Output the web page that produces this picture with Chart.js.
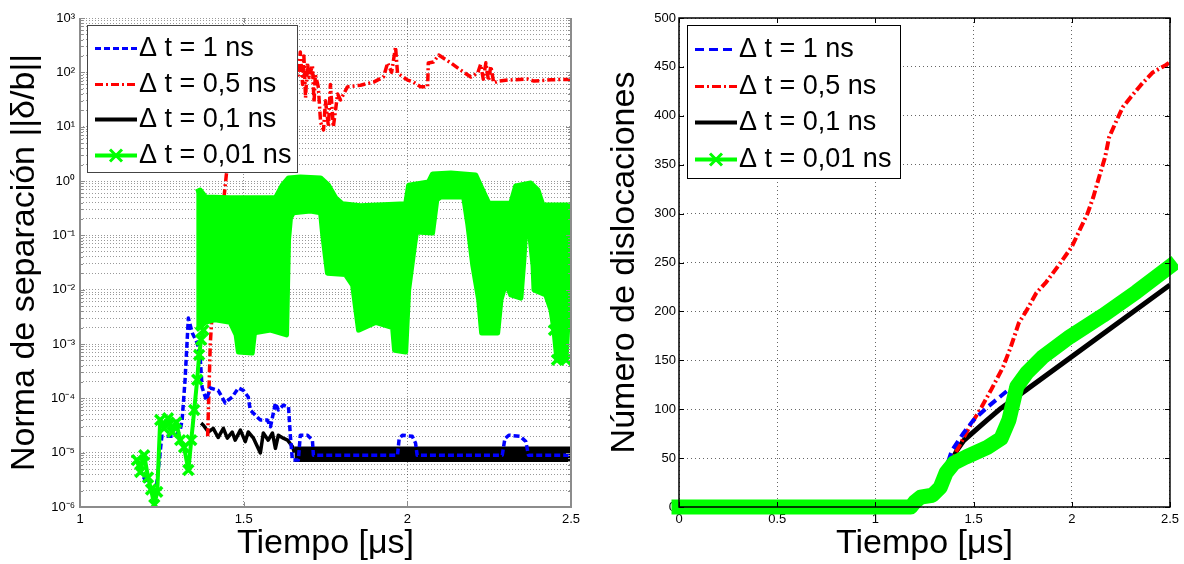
<!DOCTYPE html>
<html>
<head>
<meta charset="utf-8">
<script src="https://cdn.jsdelivr.net/npm/chart.js@4.4.1/dist/chart.umd.min.js"></script>
<style>
  html, body { margin: 0; padding: 0; background: #fff; }
  #wrap { position: relative; width: 1184px; height: 564px; }
  #wrap canvas { position: absolute; top: 0; }
  #separacion { left: 0; }
  #dislocaciones { left: 600px; }
</style>
</head>
<body>
<div id="wrap">
  <canvas id="separacion" width="600" height="564"></canvas>
  <canvas id="dislocaciones" width="584" height="564"></canvas>
</div>
<script>
// ---------- Norma de separacion ||delta/b|| (panel izquierdo, escala log) ----------
// dt = 1 ns
var tSep1 = [1.18, 1.23, 1.25, 1.29, 1.306, 1.312, 1.321, 1.331, 1.343, 1.358, 1.367, 1.373, 1.386, 1.398, 1.422,
  1.444, 1.453, 1.465, 1.484, 1.499, 1.514, 1.520, 1.542, 1.551, 1.572, 1.582, 1.597, 1.606, 1.621, 1.637,
  1.643, 1.649, 1.667, 1.673, 1.695, 1.710, 1.713, 1.80, 1.90, 1.97, 1.975, 1.985, 2.015, 2.025, 2.03,
  2.15, 2.29, 2.298, 2.31, 2.345, 2.362, 2.37, 2.45, 2.5];
var nSep1 = [5e-6, 1.5e-6, 2e-5, 2e-5, 2.6e-5, 4e-5, 2.2e-4, 3e-3, 1.6e-3, 1.04e-3, 5.8e-4, 1.6e-4, 9.3e-5, 1.55e-4, 1.4e-4,
  8.2e-5, 9.3e-5, 1.06e-4, 1.55e-4, 1.4e-4, 1.06e-4, 6.1e-5, 4.5e-5, 4e-5, 4e-5, 3e-5, 8.2e-5, 6.1e-5, 7.5e-5, 6.9e-5,
  1.9e-5, 7.3e-6, 7.3e-6, 2.1e-5, 2.1e-5, 1.7e-5, 9e-6, 9e-6, 9e-6, 9e-6, 1.8e-5, 2.1e-5, 2e-5, 1.5e-5, 9e-6,
  9e-6, 9e-6, 1.8e-5, 2.1e-5, 2e-5, 1.6e-5, 9e-6, 9e-6, 9e-6];

// dt = 0,5 ns
var tSep05 = [1.39, 1.398, 1.404, 1.41, 1.44, 1.447, 1.49, 1.58, 1.667, 1.673, 1.68, 1.684, 1.689, 1.695, 1.70,
  1.71, 1.715, 1.719, 1.728, 1.735, 1.744, 1.75, 1.759, 1.765, 1.774, 1.787, 1.796, 1.817, 1.857, 1.897,
  1.927, 1.94, 1.952, 1.964, 1.97, 2.001, 2.019, 2.041, 2.062, 2.064, 2.08, 2.096, 2.133, 2.163, 2.194,
  2.215, 2.224, 2.232, 2.24, 2.248, 2.255, 2.264, 2.279, 2.307, 2.368, 2.387, 2.439, 2.491, 2.5];
var nSep05 = [2e-5, 1e-3, 4e-3, 0.03, 0.5, 1.3, 47, 110, 89, 237, 60, 200, 34, 150, 80,
  136, 28, 90, 54, 12, 8.7, 30, 10, 60, 9.9, 40, 31, 54, 58, 66,
  82, 149, 100, 293, 97, 72, 66, 54, 54, 149, 155, 208, 149, 110, 82,
  97, 140, 75, 150, 70, 130, 64, 69, 72, 75, 69, 73, 74, 74];

// dt = 0,1 ns: tramo oscilante y banda final
var tSep01 = [1.37, 1.377, 1.392, 1.407, 1.422, 1.438, 1.45, 1.465, 1.474, 1.49, 1.505, 1.514, 1.53, 1.551, 1.56,
  1.575, 1.588, 1.597, 1.606, 1.621, 1.634, 1.649, 1.655];
var nSep01 = [3.5e-5, 3.2e-5, 2.4e-5, 2.8e-5, 1.9e-5, 2.8e-5, 1.85e-5, 2.4e-5, 1.7e-5, 2.6e-5, 1.6e-5, 2.4e-5, 1.85e-5, 9.9e-6, 2.3e-5,
  1.7e-5, 2.3e-5, 1.2e-5, 2.1e-5, 1.85e-5, 1.7e-5, 1.3e-5, 1e-5];
var tSep01Banda = [1.655, 2.5];
var sep01Max = [1.25e-5, 1.25e-5];
var sep01Min = [7e-6, 7e-6];

// dt = 0,01 ns: tramo inicial con marcadores
var tSep001 = [1.174, 1.184, 1.196, 1.208, 1.217, 1.227, 1.236, 1.245, 1.257, 1.269, 1.282, 1.294, 1.306, 1.318, 1.331,
  1.34, 1.349, 1.358, 1.364, 1.37, 1.377];
var nSep001 = [7.3e-6, 4.4e-6, 9e-6, 3.5e-6, 2.1e-6, 1.1e-6, 1.9e-6, 4e-5, 2.8e-5, 4.3e-5, 2.4e-5, 3.6e-5, 1.7e-5, 1.25e-5, 4.8e-6,
  1.7e-5, 6.1e-5, 2.2e-4, 6.3e-4, 1.2e-3, 1.8e-3];
// dt = 0,01 ns: envolvente de la oscilacion rapida
var tBandaSup = [1.355, 1.367, 1.383, 1.459, 1.597, 1.618, 1.637, 1.673, 1.735, 1.759, 1.781, 1.802, 1.857, 1.995, 2.004,
  2.065, 2.077, 2.133, 2.209, 2.23, 2.249, 2.316, 2.331, 2.377, 2.399, 2.414, 2.5];
var bandaSup = [0.63, 0.68, 0.51, 0.49, 0.49, 0.84, 1.14, 1.18, 1.14, 0.84, 0.49, 0.38, 0.35, 0.38, 0.84,
  0.96, 1.35, 1.4, 1.29, 0.68, 0.39, 0.39, 0.81, 0.92, 0.68, 0.36, 0.36];
var tBandaInf = [1.355, 1.383, 1.413, 1.459, 1.477, 1.484, 1.526, 1.533, 1.582, 1.631, 1.637, 1.643, 1.652, 1.704, 1.735,
  1.741, 1.756, 1.811, 1.833, 1.851, 1.903, 1.955, 1.961, 1.995, 2.004, 2.022, 2.028, 2.077, 2.09, 2.102,
  2.172, 2.185, 2.2, 2.218, 2.227, 2.276, 2.286, 2.301, 2.316, 2.347, 2.356, 2.362, 2.371, 2.384, 2.387,
  2.423, 2.439, 2.448, 2.457, 2.485, 2.491, 2.494, 2.5];
var bandaInf = [1.8e-3, 2.5e-3, 2.8e-3, 2.5e-3, 1.47e-3, 7.1e-4, 6.8e-4, 1.6e-3, 1.8e-3, 1.47e-3, 0.082, 0.21, 0.26, 0.28, 0.26,
  0.11, 0.02, 0.019, 0.012, 1.8e-3, 2.5e-3, 2e-3, 7.7e-4, 7.1e-4, 9.9e-3, 0.066, 0.115, 0.11, 0.45, 0.51,
  0.51, 0.155, 0.028, 6.5e-3, 1.6e-3, 1.6e-3, 6.5e-3, 0.0133, 8e-3, 7e-3, 0.035, 0.136, 0.155, 0.028, 9.9e-3,
  8e-3, 4.2e-3, 1.8e-3, 5.1e-4, 5.1e-4, 2.8e-3, 7.3e-3, 7.3e-3];

// ---------- Numero de dislocaciones (panel derecho) ----------
var tDis1 = [0, 1.2, 1.3, 1.36, 1.39, 1.45, 1.5, 1.57, 1.63, 1.69, 1.8, 2.0, 2.1, 2.2, 2.3, 2.5];
var nDis1 = [0, 0, 15, 40, 58, 76, 89, 102, 112, 122, 140, 172, 185, 196, 211, 240];
var tDis05 = [0, 1.2, 1.3, 1.36, 1.4, 1.415, 1.48, 1.54, 1.59, 1.65, 1.69, 1.73, 1.77, 1.82, 1.87,
  1.94, 2.0, 2.04, 2.08, 2.11, 2.14, 2.17, 2.19, 2.23, 2.26, 2.3, 2.35, 2.41, 2.48, 2.5];
var nDis05 = [0, 0, 15, 38, 52, 58, 82, 102, 120, 143, 164, 188, 201, 219, 230,
  249, 266, 283, 300, 317, 338, 358, 378, 396, 409, 419, 431, 444, 452, 455];
var tDis01 = [0, 1.2, 1.3, 1.36, 1.415, 1.45, 1.57, 1.64, 1.77, 2.5];
var nDis01 = [0, 0, 15, 35, 58, 68, 89, 101, 120, 227];
var tDis001 = [0, 1.18, 1.2, 1.23, 1.29, 1.33, 1.36, 1.4, 1.46, 1.57, 1.64, 1.68, 1.72, 1.77, 1.85, 1.99, 2.16, 2.33, 2.5];
var nDis001 = [0, 0, 5, 10, 12, 20, 35, 45, 51, 61, 70, 89, 123, 137, 153, 174, 196, 220, 246];

var etiquetas = ['\u0394 t = 1 ns', '\u0394 t = 0,5 ns', '\u0394 t = 0,1 ns', '\u0394 t = 0,01 ns'];
var ticksTiempoSep = [1, 1.5, 2, 2.5];
var ticksTiempoDis = [0, 0.5, 1, 1.5, 2, 2.5];
var ticksDislocaciones = [0, 50, 100, 150, 200, 250, 300, 350, 400, 450, 500];
var decadas = [-6, -5, -4, -3, -2, -1, 0, 1, 2, 3];

var AZUL = '#0000ff', ROJO = '#ff0000', NEGRO = '#000000', VERDE = '#00ff00';
var FUENTE = '"Liberation Sans", Arial, Helvetica, sans-serif';

function puntos(ts, vs) {
  return ts.map(function (t, i) { return { x: t, y: vs[i] }; });
}

var SUP = { '-': '\u207b', '0': '\u2070', '1': '\u00b9', '2': '\u00b2', '3': '\u00b3', '4': '\u2074',
  '5': '\u2075', '6': '\u2076', '7': '\u2077', '8': '\u2078', '9': '\u2079' };
function potencia(exp) {
  return '10' + String(exp).split('').map(function (c) { return SUP[c]; }).join('');
}

// marcas 1..9 x 10^n para la rejilla del eje log
var marcasLog = [];
decadas.forEach(function (d) {
  for (var k = 1; k <= 9; k++) {
    if (d === decadas[decadas.length - 1] && k > 1) break;
    marcasLog.push({ value: k * Math.pow(10, d), major: k === 1 });
  }
});

// caja de ejes con marcas hacia dentro
var marco = {
  id: 'marco',
  afterDatasetsDraw: function (chart, args, o) {
    var a = chart.chartArea, ctx = chart.ctx, sx = chart.scales.x, sy = chart.scales.y;
    ctx.save();
    ctx.strokeStyle = o.color;
    ctx.lineWidth = 1;
    ctx.beginPath();
    sx.ticks.forEach(function (t) {
      var px = Math.round(sx.getPixelForValue(t.value)) + 0.5;
      ctx.moveTo(px, a.bottom); ctx.lineTo(px, a.bottom - o.tick);
      ctx.moveTo(px, a.top); ctx.lineTo(px, a.top + o.tick);
    });
    sy.ticks.forEach(function (t) {
      var py = Math.round(sy.getPixelForValue(t.value)) + 0.5;
      var len = t.major === false ? o.tick * 0.6 : o.tick;
      ctx.moveTo(a.left, py); ctx.lineTo(a.left + len, py);
      ctx.moveTo(a.right, py); ctx.lineTo(a.right - len, py);
    });
    ctx.stroke();
    ctx.lineWidth = o.width;
    ctx.beginPath();
    if (o.top) {
      ctx.rect(a.left, a.top, a.right - a.left, a.bottom - a.top);
    } else {
      ctx.moveTo(a.left, a.top); ctx.lineTo(a.left, a.bottom);
      ctx.lineTo(a.right, a.bottom); ctx.lineTo(a.right, a.top);
    }
    ctx.stroke();
    ctx.restore();
  }
};

// leyenda con fondo blanco dentro del area de datos
var leyendaCaja = {
  id: 'leyendaCaja',
  afterDatasetsDraw: function (chart, args, o) {
    var ctx = chart.ctx;
    ctx.save();
    ctx.fillStyle = '#fff';
    ctx.fillRect(o.x, o.y, o.w, o.h);
    ctx.strokeStyle = o.frame;
    ctx.lineWidth = 1;
    ctx.strokeRect(o.x + 0.5, o.y + 0.5, o.w, o.h);
    ctx.font = o.font;
    ctx.textBaseline = 'middle';
    chart.data.datasets.filter(function (d) { return d.leyenda; }).forEach(function (d, i) {
      var y = Math.round(o.y + o.first + i * o.step) + 0.5;
      ctx.save();
      ctx.strokeStyle = d.borderColor;
      ctx.lineWidth = d.anchoLeyenda;
      ctx.setLineDash(d.borderDash || []);
      ctx.beginPath();
      ctx.moveTo(o.x + 8, y); ctx.lineTo(o.x + 50, y);
      ctx.stroke();
      if (d.marcaLeyenda) {
        var cx = o.x + 29, r = 6;
        ctx.setLineDash([]);
        ctx.lineWidth = 3;
        ctx.beginPath();
        ctx.moveTo(cx - r, y - r); ctx.lineTo(cx + r, y + r);
        ctx.moveTo(cx - r, y + r); ctx.lineTo(cx + r, y - r);
        ctx.stroke();
      }
      ctx.restore();
      ctx.fillStyle = '#000';
      ctx.fillText(d.label, o.x + 52, y);
    });
    ctx.restore();
  }
};

function ejeX(min, max, marcas, gridColor, dash) {
  return {
    type: 'linear', min: min, max: max,
    afterBuildTicks: function (axis) { axis.ticks = marcas.map(function (v) { return { value: v }; }); },
    afterFit: function (axis) { axis.height = 57; },
    grid: { color: gridColor, lineWidth: 1, drawTicks: false },
    border: { display: false, dash: dash },
    ticks: { autoSkip: false, maxRotation: 0, padding: 5, color: '#000',
      font: { family: FUENTE, size: 13 }, callback: function (v) { return String(v); } },
    title: { display: true, text: 'Tiempo [\u03bcs]', color: '#000', padding: { top: 0, bottom: 3 },
      font: { family: FUENTE, size: 34, lineHeight: 1 } }
  };
}

Chart.defaults.font.family = FUENTE;

new Chart(document.getElementById('separacion'), {
  type: 'line',
  data: {
    datasets: [
      { label: etiquetas[0], leyenda: true, anchoLeyenda: 3, data: puntos(tSep1, nSep1), order: 1,
        borderColor: AZUL, borderWidth: 3.5, borderDash: [6, 3] },
      { label: etiquetas[1], leyenda: true, anchoLeyenda: 3, data: puntos(tSep05, nSep05), order: 2,
        borderColor: ROJO, borderWidth: 3.5, borderDash: [8, 3, 2, 3] },
      { label: etiquetas[2], leyenda: true, anchoLeyenda: 4, data: puntos(tSep01, nSep01), order: 3,
        borderColor: NEGRO, borderWidth: 3.5 },
      { label: 'max 0,1', data: puntos(tSep01Banda, sep01Max), order: 3, borderColor: NEGRO, borderWidth: 2,
        fill: '+1', backgroundColor: NEGRO },
      { label: 'min 0,1', data: puntos(tSep01Banda, sep01Min), order: 3, borderColor: NEGRO, borderWidth: 2 },
      { label: etiquetas[3], leyenda: true, anchoLeyenda: 4, marcaLeyenda: true, data: puntos(tSep001, nSep001), order: 0,
        borderColor: VERDE, borderWidth: 4, pointRadius: 7, pointStyle: 'crossRot',
        pointBorderWidth: 3.5, pointBorderColor: VERDE },
      { label: 'max 0,01', data: puntos(tBandaSup, bandaSup), order: 0, borderColor: VERDE, borderWidth: 5,
        fill: '+1', backgroundColor: VERDE },
      { label: 'min 0,01', data: puntos(tBandaInf, bandaInf), order: 0, borderColor: VERDE, borderWidth: 5,
        pointStyle: 'crossRot', pointBorderWidth: 3.5, pointBorderColor: VERDE,
        pointRadius: function (c) { return c.raw && c.raw.x >= 2.44 ? 7 : 0; } }
    ]
  },
  options: {
    responsive: false, animation: false, events: [],
    layout: { padding: { left: 0, top: 18, right: 29, bottom: 0 } },
    elements: { line: { tension: 0, fill: false, borderJoinStyle: 'round' }, point: { radius: 0 } },
    plugins: {
      legend: { display: false }, tooltip: { enabled: false },
      marco: { color: '#8c8c8c', width: 2, tick: 5, top: false },
      leyendaCaja: { x: 87, y: 25, w: 210, h: 147, first: 23, step: 35.7, frame: '#444',
        font: '27px ' + FUENTE }
    },
    scales: {
      x: ejeX(1, 2.5, ticksTiempoSep, 'rgba(0,0,0,0.45)', [1, 2]),
      y: {
        type: 'logarithmic', min: 1e-6, max: 1e3,
        afterBuildTicks: function (axis) { axis.ticks = marcasLog.map(function (m) { return { value: m.value, major: m.major }; }); },
        afterFit: function (axis) { axis.width = 80; },
        grid: { color: 'rgba(0,0,0,0.4)', lineWidth: 1, drawTicks: false },
        border: { display: false, dash: [1, 2] },
        ticks: { autoSkip: false, padding: 5, color: '#000', font: { family: FUENTE, size: 13 },
          callback: function (v) {
            var e = Math.round(Math.log10(v));
            return Math.abs(v / Math.pow(10, e) - 1) < 1e-6 ? potencia(e) : '';
          } },
        title: { display: true, text: 'Norma de separaci\u00f3n ||\u03b4/b||', color: '#000',
          padding: { top: 8, bottom: 0 }, font: { family: FUENTE, size: 34, lineHeight: 1 } }
      }
    }
  },
  plugins: [marco, leyendaCaja]
});

new Chart(document.getElementById('dislocaciones'), {
  type: 'line',
  data: {
    datasets: [
      { label: etiquetas[0], leyenda: true, anchoLeyenda: 3, data: puntos(tDis1, nDis1), order: 1,
        borderColor: AZUL, borderWidth: 4, borderDash: [9, 5] },
      { label: etiquetas[1], leyenda: true, anchoLeyenda: 3, data: puntos(tDis05, nDis05), order: 2,
        borderColor: ROJO, borderWidth: 4, borderDash: [9, 3, 2, 3] },
      { label: etiquetas[2], leyenda: true, anchoLeyenda: 4, data: puntos(tDis01, nDis01), order: 3,
        borderColor: NEGRO, borderWidth: 5 },
      { label: etiquetas[3], leyenda: true, anchoLeyenda: 4, marcaLeyenda: true, data: puntos(tDis001, nDis001), order: 0,
        borderColor: VERDE, borderWidth: 15, borderCapStyle: 'square', clip: 8 }
    ]
  },
  options: {
    responsive: false, animation: false, events: [],
    layout: { padding: { left: 0, top: 18, right: 14, bottom: 0 } },
    elements: { line: { tension: 0, fill: false, borderJoinStyle: 'round' }, point: { radius: 0 } },
    plugins: {
      legend: { display: false }, tooltip: { enabled: false },
      marco: { color: '#000', width: 1.5, tick: 5, top: true },
      leyendaCaja: { x: 87, y: 25, w: 213, h: 153, first: 24, step: 36.5, frame: '#000',
        font: '27px ' + FUENTE }
    },
    scales: {
      x: ejeX(0, 2.5, ticksTiempoDis, 'rgba(0,0,0,0.6)', [1, 3]),
      y: {
        type: 'linear', min: 0, max: 500,
        afterBuildTicks: function (axis) { axis.ticks = ticksDislocaciones.map(function (v) { return { value: v }; }); },
        afterFit: function (axis) { axis.width = 79; },
        grid: { color: 'rgba(0,0,0,0.6)', lineWidth: 1, drawTicks: false },
        border: { display: false, dash: [1, 3] },
        ticks: { autoSkip: false, padding: 3, color: '#000', font: { family: FUENTE, size: 13 } },
        title: { display: true, text: 'N\u00famero de dislocaciones', color: '#000',
          padding: { top: 8, bottom: 0 }, font: { family: FUENTE, size: 34, lineHeight: 1 } }
      }
    }
  },
  plugins: [marco, leyendaCaja]
});
</script>
</body>
</html>
